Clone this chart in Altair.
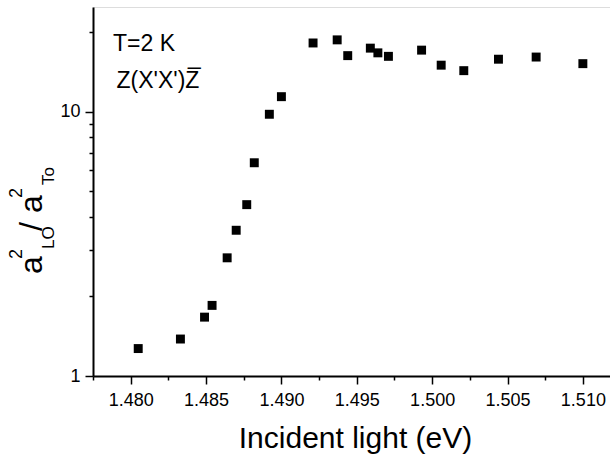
import altair as alt
import pandas as pd

# ---- data ----
energy = [1.4805, 1.4833, 1.4849, 1.4854, 1.4864, 1.4870, 1.4877, 1.4882, 1.4892, 1.4900,
          1.4921, 1.4937, 1.4944, 1.4959, 1.4964, 1.4971, 1.4993, 1.5006, 1.5021, 1.5044,
          1.5069, 1.5100]
ratio = [1.27, 1.38, 1.67, 1.85, 2.80, 3.56, 4.45, 6.41, 9.78, 11.4,
         18.2, 18.7, 16.3, 17.4, 16.7, 16.2, 17.1, 15.0, 14.3, 15.8,
         16.1, 15.2]

x_major = [1.480, 1.485, 1.490, 1.495, 1.500, 1.505, 1.510]
x_minor = [1.4775, 1.4825, 1.4875, 1.4925, 1.4975, 1.5025, 1.5075]
y_major = [1, 10]
y_minor = [2, 3, 4, 5, 6, 7, 8, 9, 20]

x_title = "Incident light (eV)"
note1 = "T=2 K"
note2 = "Z(X'X')Z\u0305"

df = pd.DataFrame({"energy": energy, "ratio": ratio})

FONT = "Liberation Sans"
W, H = 517, 369
INK = "#000000"

xs = alt.Scale(domain=[1.4775, 1.5118], nice=False, zero=False)
ys = alt.Scale(type="log", domain=[1, 24.9], nice=False)

common = dict(domainColor=INK, domainOpacity=1, domainWidth=2,
              tickColor=INK, tickOpacity=1, tickWidth=1.5, grid=False)

points = alt.Chart(df).mark_point(
    shape="square", filled=True, color="black", opacity=1, size=80
).encode(
    x=alt.X("energy:Q", scale=xs,
            axis=alt.Axis(values=x_major, format=".3f", tickSize=8, labelFontSize=18,
                          labelPadding=7, title=x_title, titleFontSize=30,
                          titleFontWeight="normal", titleBaseline="alphabetic",
                          titleY=71, titleX=262, titleAlign="center", orient="bottom",
                          **common)),
    y=alt.Y("ratio:Q", scale=ys,
            axis=alt.Axis(values=y_major, format="d", tickSize=8, labelFontSize=18,
                          labelPadding=5, title=None, orient="left", **common)),
)

minor = alt.Chart(df).mark_point(opacity=0).encode(
    x=alt.X("energy:Q", scale=xs,
            axis=alt.Axis(values=x_minor, tickSize=4, labels=False, domain=False,
                          title=None, orient="bottom", tickColor=INK, tickWidth=1.5,
                          grid=False)),
    y=alt.Y("ratio:Q", scale=ys,
            axis=alt.Axis(values=y_minor, tickSize=4, labels=False, domain=False,
                          title=None, orient="left", tickColor=INK, tickWidth=1.5,
                          grid=False)),
)

def txt(s, px, py, size, angle=0):
    return alt.Chart(alt.Data(values=[{}])).mark_text(
        text=s, fontSize=size, font=FONT, align="left", baseline="alphabetic",
        angle=angle, color="black"
    ).encode(x=alt.value(px), y=alt.value(py))

# y-axis title a^2_LO / a^2_To built from pieces (rotated)
ytitle_pieces = [
    ("a", -51, 267, 32),
    ("2", -71, 252, 18),
    ("LO", -39.5, 242, 17),
    ("/", -51, 224, 32),
    ("a", -51, 206, 32),
    ("2", -71, 191, 18),
    ("To", -39.5, 178, 17),
]
layers = [points, minor]
layers += [txt(s, px, py, sz, 270) for s, px, py, sz in ytitle_pieces]
layers += [txt(note1, 20, 44, 23), txt(note2, 23.5, 81, 23)]

chart = alt.layer(*layers).resolve_axis(
    x="independent", y="independent"
).properties(
    width=W, height=H,
    autosize=alt.AutoSizeParams(type="none"),
    padding={"left": 93, "top": 7, "right": 0, "bottom": 81},
).configure_view(
    stroke=INK, strokeWidth=2, strokeOpacity=1
).configure_axis(
    labelColor=INK, titleColor=INK, labelFont=FONT, titleFont=FONT
).configure(background="white")

chart.save("out.html", embed_options={"renderer": "svg", "actions": False})
